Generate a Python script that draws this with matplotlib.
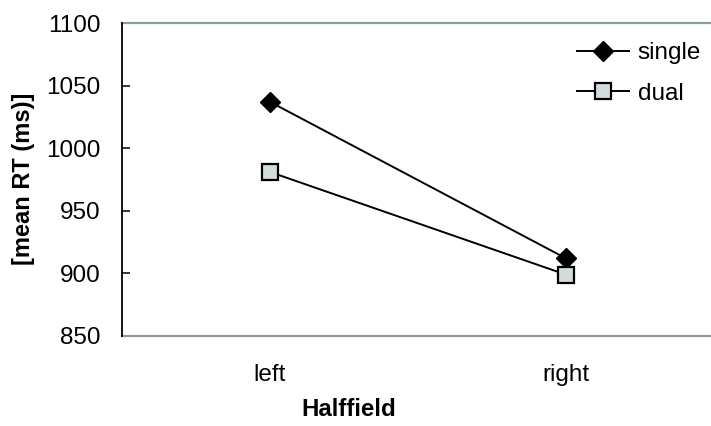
import matplotlib
matplotlib.use("Agg")
import matplotlib.pyplot as plt

categories = ["left", "right"]
single = [1037, 912]
dual = [981, 899]
yticks = [850, 900, 950, 1000, 1050, 1100]

plt.rcParams['font.family'] = ['Liberation Sans', 'DejaVu Sans']
W, H = 711, 426
fig = plt.figure(figsize=(W / 100, H / 100), dpi=100)
ax = fig.add_axes([122 / W, (H - 336) / H, (714 - 122) / W, (336 - 23) / H])

x = list(range(len(categories)))
ax.plot(x, single, color='black', lw=1.4, marker='D', markersize=10,
        markerfacecolor='black', markeredgecolor='black', label='single', zorder=3)
ax.plot(x, dual, color='black', lw=1.4, marker='s', markersize=12,
        markerfacecolor='#d3dcdc', markeredgecolor='black', markeredgewidth=1.6,
        label='dual', zorder=3)

ax.set_xlim(-0.5, 1.5)
ax.set_ylim(850, 1100)
ax.set_yticks(yticks)
ax.set_yticklabels([str(v) for v in yticks])
ax.set_xticks(x)
ax.set_xticklabels(categories)
ax.tick_params(axis='y', direction='in', length=5.5, width=1.1, color='black',
               labelsize=17.5, pad=15.5)
ax.tick_params(axis='x', length=0, labelsize=17.5, pad=20.5)

for s in ['top', 'bottom']:
    ax.spines[s].set_color('#8c9c9c')
    ax.spines[s].set_linewidth(1.6)
ax.spines['left'].set_color('black')
ax.spines['left'].set_linewidth(1.3)
ax.spines['right'].set_visible(False)
ax.spines['left'].set_zorder(4)

fig.text(349 / W, 1 - 409 / H, 'Halffield', ha='center', va='center',
         fontsize=17.3, fontweight='bold')
fig.text(24 / W, 1 - 179 / H, '[mean RT (ms)]', ha='center', va='center',
         rotation=90, fontsize=17, fontweight='bold')

leg = ax.legend(loc='upper left', bbox_to_anchor=(577 / W, 1 - 42 / H),
                bbox_transform=fig.transFigure, frameon=False, fontsize=17.5,
                handlelength=2.15, handletextpad=0.35, labelspacing=0.78,
                borderpad=0, borderaxespad=0)

fig.savefig('out.png', dpi=100)
